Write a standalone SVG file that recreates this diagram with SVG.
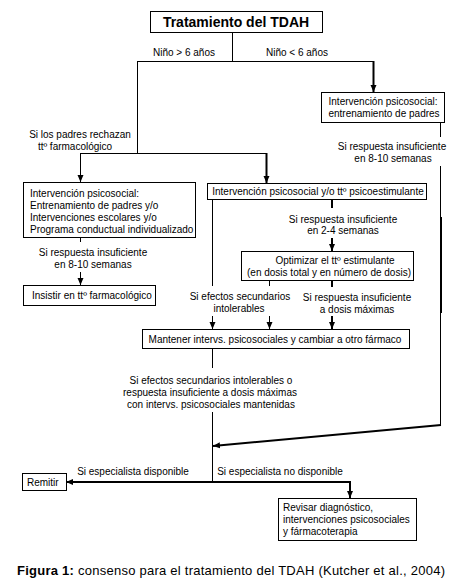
<svg xmlns="http://www.w3.org/2000/svg" width="452" height="581" viewBox="0 0 452 581">
<defs>
<marker id="ah" markerUnits="userSpaceOnUse" markerWidth="7" markerHeight="7" viewBox="0 0 7 7" refX="7" refY="3.5" orient="auto">
<path d="M0,0.5 L7,3.5 L0,6.5 Z" fill="#000"/>
</marker>
</defs>
<style>
.box{fill:#fff;stroke:#000;stroke-width:1}
.t{font-family:"Liberation Sans",Arial,sans-serif;font-size:10px;fill:#000}
.c{text-anchor:middle}
.ln{fill:none;stroke:#000;stroke-width:1}
.th{fill:none;stroke:#000;stroke-width:2}
</style>
<rect width="452" height="581" fill="#fff"/>
<g id="connectors">
<path class="ln" d="M232.5,32 V61.5"/>
<path class="ln" d="M137,61.5 H373.5"/>
<path class="th" d="M373.5,61 V92" marker-end="url(#ah)"/>
<path class="ln" d="M137.5,61 V153.5"/>
<path class="ln" d="M80,153.5 H266.5"/>
<path class="ln" d="M80.5,153 V182" marker-end="url(#ah)"/>
<path class="th" d="M266.5,153 V183" marker-end="url(#ah)"/>
<path class="ln" d="M80.5,237 V242"/>
<path class="ln" d="M80.5,272 V285" marker-end="url(#ah)"/>
<path class="th" d="M332,199 V208"/>
<path class="th" d="M332,238 V251" marker-end="url(#ah)"/>
<path class="ln" d="M212.5,199 V286"/>
<path class="ln" d="M212.5,316 V329" marker-end="url(#ah)"/>
<path class="ln" d="M269.5,281 V286"/>
<path class="ln" d="M269.5,316 V329" marker-end="url(#ah)"/>
<path class="th" d="M332,281 V287"/>
<path class="th" d="M332,316 V329" marker-end="url(#ah)"/>
<path class="ln" d="M440.5,123 V137"/>
<path class="ln" d="M440.5,166 V426"/>
<path class="th" d="M441,217 V313"/>
<path class="th" d="M441,425 L213,446" marker-end="url(#ah)"/>
<path class="ln" d="M212.5,349 V368"/>
<path class="ln" d="M212.5,412 V482"/>
<path class="th" d="M350,482 H66" marker-end="url(#ah)"/>
<path class="th" d="M350,481 V498" marker-end="url(#ah)"/>
</g>
<g id="n-title">
<rect class="box" x="150.5" y="11.5" width="172" height="21"/>
<text class="t c" x="236" y="27" style="font-size:14px;font-weight:bold">Tratamiento del TDAH</text>
</g>
<g id="l-mayor"><text class="t c" x="184" y="56">Niño &gt; 6 años</text></g>
<g id="l-menor"><text class="t c" x="297" y="56">Niño &lt; 6 años</text></g>
<g id="n-padres">
<rect class="box" x="321.5" y="92.5" width="123" height="30"/>
<text class="t c" x="383" y="105">Intervención psicosocial:</text>
<text class="t c" x="384" y="117">entrenamiento de padres</text>
</g>
<g id="l-resp1">
<text class="t c" x="392" y="150">Si respuesta insuficiente</text>
<text class="t c" x="393" y="162">en 8-10 semanas</text>
</g>
<g id="l-rechazan">
<text class="t c" x="80" y="138">Si los padres rechazan</text>
<text class="t c" x="75" y="150">ttº farmacológico</text>
</g>
<g id="n-psico">
<rect class="box" x="23.5" y="182.5" width="172" height="55"/>
<text class="t" x="30" y="197">Intervención psicosocial:</text>
<text class="t" x="30" y="209">Entrenamiento de padres y/o</text>
<text class="t" x="30" y="221">Intervenciones escolares y/o</text>
<text class="t" x="30" y="233">Programa conductual individualizado</text>
</g>
<g id="l-resp2">
<text class="t c" x="93" y="256">Si respuesta insuficiente</text>
<text class="t c" x="93" y="268">en 8-10 semanas</text>
</g>
<g id="n-insistir">
<rect class="box" x="23.5" y="285.5" width="132" height="20"/>
<text class="t" x="32" y="299">Insistir en ttº farmacológico</text>
</g>
<g id="n-estim">
<rect class="box" x="207.5" y="183.5" width="219" height="16"/>
<text class="t c" x="318" y="195">Intervención psicosocial y/o ttº psicoestimulante</text>
</g>
<g id="l-resp3">
<text class="t c" x="343" y="223">Si respuesta insuficiente</text>
<text class="t c" x="343" y="234">en 2-4 semanas</text>
</g>
<g id="n-optim">
<rect class="box" x="241.5" y="251.5" width="172" height="29"/>
<text class="t c" x="335" y="264">Optimizar el ttº estimulante</text>
<text class="t c" x="329" y="276">(en dosis total y en número de dosis)</text>
</g>
<g id="l-efectos">
<text class="t c" x="240" y="300">Si efectos secundarios</text>
<text class="t c" x="239" y="312">intolerables</text>
</g>
<g id="l-resp4">
<text class="t c" x="357" y="301">Si respuesta insuficiente</text>
<text class="t c" x="357" y="313">a dosis máximas</text>
</g>
<g id="n-mantener">
<rect class="box" x="142.5" y="329.5" width="267" height="19"/>
<text class="t c" x="275" y="343">Mantener intervs. psicosociales y cambiar a otro fármaco</text>
</g>
<g id="l-efectos2">
<text class="t c" x="211" y="384">Si efectos secundarios intolerables o</text>
<text class="t c" x="210" y="396">respuesta insuficiente a dosis máximas</text>
<text class="t c" x="211" y="408">con intervs. psicosociales mantenidas</text>
</g>
<g id="l-disp">
<text class="t c" x="133" y="475">Si especialista disponible</text>
</g>
<g id="l-nodisp">
<text class="t c" x="280" y="475">Si especialista no disponible</text>
</g>
<g id="n-remitir">
<rect class="box" x="22.5" y="473.5" width="44" height="17"/>
<text class="t" x="27" y="486">Remitir</text>
</g>
<g id="n-revisar">
<rect class="box" x="278.5" y="498.5" width="138" height="42"/>
<text class="t" x="283" y="511">Revisar diagnóstico,</text>
<text class="t" x="283" y="523">intervenciones psicosociales</text>
<text class="t" x="283" y="535">y fármacoterapia</text>
</g>
<g id="caption">
<text class="t" x="17" y="575" style="font-size:13px" textLength="428" lengthAdjust="spacing"><tspan font-weight="bold">Figura 1:</tspan> consenso para el tratamiento del TDAH (Kutcher et al., 2004)</text>
</g>
</svg>
